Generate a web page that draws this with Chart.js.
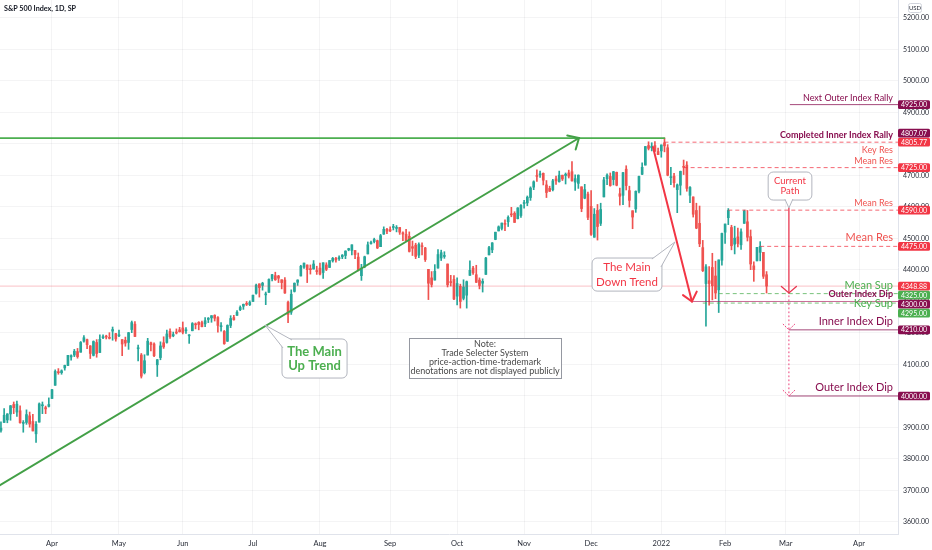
<!DOCTYPE html>
<html>
<head>
<meta charset="utf-8">
<title>S&amp;P 500 Index, 1D</title>
<script src="https://cdn.jsdelivr.net/npm/chart.js@4.4.1/dist/chart.umd.min.js"></script>
<style>
  html, body { margin: 0; padding: 0; background: #fff; }
  canvas { display: block; }
</style>
</head>
<body>
<canvas id="chart" width="932" height="550" style="width:932px;height:550px"></canvas>
<script>
// --- daily candles [open, high, low, close] ---
const mar21 = [
  [3844,3881,3809,3821],[3851,3903,3851,3875],[3891,3918,3885,3898],[3916,3960,3916,3939],
  [3924,3944,3915,3943],[3943,3970,3923,3969],[3973,3981,3944,3963],[3949,3984,3935,3974],
  [3953,3969,3914,3915],[3913,3922,3885,3913],[3916,3956,3910,3941],[3937,3949,3901,3911],
  [3919,3942,3889,3889],[3880,3919,3853,3910],[3917,3978,3917,3975],[3969,3981,3944,3971],
  [3963,3968,3944,3959],[3967,3994,3965,3973]
];
const apr21 = [
  [3992,4021,3992,4020],[4034,4083,4034,4078],[4075,4087,4069,4074],[4074,4083,4069,4080],
  [4089,4098,4082,4097],[4097,4129,4096,4129],[4124,4131,4114,4128],[4130,4148,4125,4142],
  [4141,4151,4120,4125],[4139,4173,4139,4170],[4174,4192,4171,4185],[4179,4181,4150,4163],
  [4159,4160,4119,4135],[4129,4175,4127,4173],[4170,4179,4123,4135],[4138,4194,4138,4180],
  [4185,4194,4182,4188],[4188,4193,4181,4187],[4185,4201,4181,4183],[4206,4219,4177,4211],
  [4198,4199,4174,4181]
];
const may21 = [
  [4191,4209,4188,4192],[4179,4179,4128,4165],[4177,4187,4158,4168],[4170,4202,4148,4201],
  [4211,4238,4201,4233],[4228,4236,4188,4189],[4150,4162,4111,4153],[4130,4135,4057,4063],
  [4074,4131,4070,4112],[4130,4183,4130,4174],[4169,4171,4143,4163],[4165,4169,4125,4128],
  [4099,4116,4062,4115],[4122,4172,4115,4159],[4169,4188,4151,4156],[4170,4209,4168,4197],
  [4205,4213,4183,4188],[4191,4203,4188,4195],[4201,4213,4197,4200],[4210,4218,4203,4204]
];
const jun21 = [
  [4216,4235,4197,4202],[4207,4217,4199,4208],[4191,4195,4167,4192],[4207,4233,4207,4230],
  [4229,4232,4213,4226],[4234,4236,4210,4227],[4233,4238,4219,4220],[4229,4249,4220,4239],
  [4243,4249,4233,4247],[4248,4255,4234,4255],[4256,4258,4238,4247],[4249,4252,4203,4224],
  [4220,4233,4206,4222],[4205,4208,4164,4166],[4174,4226,4173,4224],[4224,4255,4217,4246],
  [4249,4256,4241,4242],[4256,4271,4256,4266],[4274,4286,4271,4281],[4285,4292,4275,4291],
  [4293,4300,4287,4291],[4290,4302,4287,4297]
];
const jul21 = [
  [4300,4320,4300,4320],[4326,4355,4323,4352],[4356,4356,4314,4344],[4351,4361,4336,4358],
  [4321,4330,4290,4321],[4329,4372,4329,4370],[4372,4386,4365,4385],[4382,4393,4367,4369],
  [4381,4383,4360,4374],[4369,4369,4340,4360],[4368,4376,4326,4327],[4297,4301,4233,4259],
  [4266,4337,4259,4323],[4332,4359,4330,4358],[4361,4369,4351,4368],[4381,4415,4381,4412],
  [4409,4422,4405,4422],[4416,4416,4360,4401],[4402,4416,4387,4401],[4403,4430,4403,4419],
  [4396,4412,4386,4395]
];
const aug21 = [
  [4406,4422,4384,4387],[4392,4423,4373,4423],[4416,4423,4398,4402],[4408,4430,4408,4430],
  [4429,4440,4425,4437],[4437,4440,4425,4432],[4436,4445,4430,4436],[4442,4449,4436,4447],
  [4446,4461,4436,4460],[4464,4469,4461,4468],[4462,4480,4448,4480],[4462,4462,4436,4449],
  [4441,4454,4397,4400],[4382,4418,4367,4406],[4410,4444,4407,4442],[4451,4489,4451,4480],
  [4484,4492,4482,4486],[4490,4501,4486,4497],[4493,4495,4468,4470],[4474,4513,4474,4509],
  [4514,4537,4513,4529],[4529,4532,4515,4523]
];
const sep21 = [
  [4528,4537,4522,4524],[4535,4545,4527,4537],[4532,4541,4521,4535],[4535,4535,4513,4520],
  [4518,4521,4493,4514],[4513,4529,4493,4493],[4507,4521,4457,4459],[4474,4492,4446,4469],
  [4479,4485,4436,4443],[4447,4486,4439,4481],[4477,4486,4448,4474],[4470,4472,4427,4433],
  [4402,4402,4306,4358],[4375,4395,4346,4354],[4368,4417,4368,4396],[4406,4465,4406,4449],
  [4438,4463,4430,4455],[4443,4458,4437,4443],[4419,4419,4346,4353],[4363,4383,4349,4360],
  [4370,4382,4306,4308]
];
const oct21 = [
  [4317,4375,4289,4357],[4348,4355,4279,4300],[4310,4369,4305,4346],[4320,4365,4279,4363],
  [4383,4429,4383,4399],[4406,4412,4386,4391],[4385,4415,4360,4361],[4368,4375,4340,4351],
  [4358,4372,4330,4364],[4386,4440,4386,4438],[4448,4475,4448,4471],[4464,4487,4455,4486],
  [4497,4520,4496,4520],[4524,4540,4524,4537],[4532,4549,4527,4549],[4547,4559,4525,4545],
  [4553,4572,4538,4567],[4578,4599,4569,4575],[4580,4585,4551,4551],[4563,4598,4562,4597],
  [4573,4608,4567,4605]
];
const nov21 = [
  [4611,4621,4596,4614],[4613,4635,4604,4631],[4630,4664,4621,4660],[4663,4683,4655,4680],
  [4699,4718,4681,4697],[4702,4714,4694,4702],[4707,4708,4670,4685],[4670,4684,4630,4646],
  [4659,4666,4649,4650],[4655,4688,4651,4683],[4689,4698,4672,4683],[4680,4714,4679,4701],
  [4701,4701,4684,4689],[4700,4708,4673,4704],[4708,4717,4692,4698],[4712,4744,4682,4683],
  [4679,4702,4653,4690],[4675,4702,4659,4701],[4664,4664,4585,4595],[4628,4672,4626,4655],
  [4641,4647,4560,4567]
];
const dec21 = [
  [4602,4652,4510,4513],[4504,4595,4504,4577],[4589,4608,4495,4538],[4548,4612,4541,4592],
  [4632,4694,4632,4686],[4690,4705,4671,4701],[4697,4708,4666,4668],[4687,4713,4670,4712],
  [4710,4711,4667,4669],[4642,4660,4606,4634],[4637,4710,4607,4709],[4720,4731,4654,4668],
  [4652,4666,4600,4621],[4588,4588,4531,4568],[4594,4651,4583,4650],[4650,4698,4645,4697],
  [4704,4740,4703,4726],[4733,4792,4733,4792],[4795,4807,4781,4786],[4788,4804,4778,4793],
  [4795,4808,4776,4778],[4776,4787,4766,4766]
];
const jan22 = [
  [4778,4797,4758,4797],[4804,4819,4775,4794],[4788,4798,4699,4701],[4693,4726,4671,4696],
  [4698,4707,4663,4677],[4655,4673,4582,4670],[4669,4714,4638,4713],[4728,4749,4703,4726],
  [4733,4744,4650,4659],[4637,4665,4614,4662],[4632,4632,4568,4577],[4589,4612,4531,4533],
  [4548,4603,4474,4483],[4471,4494,4395,4398],[4357,4417,4222,4410],[4366,4411,4288,4357],
  [4408,4453,4305,4350],[4381,4428,4309,4327],[4337,4432,4265,4432],[4431,4517,4415,4516]
];
const feb22 = [
  [4520,4546,4484,4546],[4566,4595,4544,4589],[4535,4542,4464,4477],[4482,4539,4451,4501],
  [4505,4533,4473,4484],[4480,4531,4465,4521],[4548,4590,4548,4587],[4553,4589,4492,4504],
  [4506,4527,4401,4419],[4413,4426,4364,4401],[4429,4472,4429,4472],[4456,4490,4429,4475],
  [4456,4456,4373,4380],[4385,4395,4327,4348.88]
];

// --- trading calendar ---
const firstDay = '2021-03-08';
const originDay = '2021-04-01';   // x = 0
const holidays = ['2021-04-02','2021-05-31','2021-07-05','2021-09-06','2021-11-25',
                  '2021-12-24','2022-01-17','2022-02-21','2022-04-15'];
const monthNames = ['Jan','Feb','Mar','Apr','May','Jun','Jul','Aug','Sep','Oct','Nov','Dec'];

// --- price axis ---
const priceTicks = [3600,3700,3800,3900,4000,4100,4200,4300,4400,4500,4600,4700,4800,4900,5000,5100,5200];

// --- marked levels ---
const lastPrice = 4348.88;
const levelPrices = [4925, 4805.77, 4807.07, 4725, 4590, 4475, 4325, 4300, 4295, 4210, 4000];
const levelNames = ['Next Outer Index Rally', 'Key Res', 'Completed Inner Index Rally', 'Mean Res',
                    'Mean Res', 'Mean Res', 'Mean Sup', 'Outer Index Dip', 'Key Sup',
                    'Inner Index Dip', 'Outer Index Dip'];
const trendHigh = 4818.6;

const X_MIN = -16.3, X_MAX = 265.2;
const UP = '#26a69a', DOWN = '#ef5350';
const GREEN = '#4caf50', RED = '#f23645', MAROON = '#880e4f';
const FONT = 'Lato, "Open Sans", sans-serif';

// build trading days
const dates = [];
for (let t = Date.parse(firstDay + 'T00:00:00Z'); dates.length < 300; t += 86400000) {
  const d = new Date(t);
  const iso = d.toISOString().slice(0, 10);
  if (d.getUTCDay() === 0 || d.getUTCDay() === 6 || holidays.includes(iso)) continue;
  dates.push(iso);
}
const origin = dates.indexOf(originDay);

const monthTicks = [];
const monthLabel = {};
dates.forEach((iso, k) => {
  if (k === 0 || iso.slice(5, 7) === dates[k - 1].slice(5, 7)) return;
  const m = +iso.slice(5, 7) - 1;
  const v = k - origin;
  if (v < X_MIN || v > X_MAX) return;
  monthTicks.push(v);
  monthLabel[v] = m === 0 ? iso.slice(0, 4) : monthNames[m];
});

const candles = [].concat(mar21, apr21, may21, jun21, jul21, aug21, sep21, oct21, nov21, dec21, jan22, feb22);
const start = dates.indexOf(firstDay) - origin;
const candleColors = candles.map(c => c[3] >= c[0] ? UP : DOWN);

// label style per level (same order as levelPrices)
const levelStyle = [
  { from: 231.3, line: 'rgba(136,14,79,0.75)', dash: [], color: MAROON, font: '9px', place: 'above' },
  { from: 192, line: 'rgba(242,54,69,0.75)', dash: [4, 3], color: '#ef5350', font: '9px', place: 'below' },
  { from: null, color: MAROON, font: 'bold 9px', place: 'above' },
  { from: 198, line: 'rgba(242,54,69,0.75)', dash: [4, 3], color: '#ef5350', font: '9px', place: 'above' },
  { from: 212, line: 'rgba(242,54,69,0.75)', dash: [4, 3], color: '#ef5350', font: '9px', place: 'above' },
  { from: 222, line: 'rgba(242,54,69,0.75)', dash: [4, 3], color: '#ef5350', font: '11px', place: 'above' },
  { from: 209, line: 'rgba(76,175,80,0.75)', dash: [4, 3], color: GREEN, font: '11px', place: 'above' },
  { from: 200.6, line: 'rgba(173,20,87,0.6)', dash: [], color: MAROON, font: 'bold 9px', place: 'above' },
  { from: 204, line: 'rgba(76,175,80,0.75)', dash: [4, 3], color: GREEN, font: '11px', place: 'middle' },
  { from: 231, line: 'rgba(136,14,79,0.75)', dash: [], color: MAROON, font: '11px', place: 'above' },
  { from: 231, line: 'rgba(136,14,79,0.75)', dash: [], color: MAROON, font: '11px', place: 'above' }
];
const axisBoxColors = [MAROON, RED, MAROON, RED, RED, RED, GREEN, MAROON, GREEN, MAROON, MAROON];

function rrect(ctx, x0, y0, x1, y1, r) {
  ctx.beginPath();
  ctx.moveTo(x0 + r, y0);
  ctx.arcTo(x1, y0, x1, y1, r);
  ctx.arcTo(x1, y1, x0, y1, r);
  ctx.arcTo(x0, y1, x0, y0, r);
  ctx.arcTo(x0, y0, x1, y0, r);
  ctx.closePath();
}

function arrowHead(ctx, fx, fy, tx, ty, len, spread) {
  const back = Math.atan2(fy - ty, fx - tx);
  ctx.beginPath();
  ctx.moveTo(tx + len * Math.cos(back - spread), ty + len * Math.sin(back - spread));
  ctx.lineTo(tx, ty);
  ctx.lineTo(tx + len * Math.cos(back + spread), ty + len * Math.sin(back + spread));
  ctx.stroke();
}

// no edge padding on the axes, the plot fills the canvas like the original
function noPad(s) {
  s.paddingTop = 0; s.paddingBottom = 0; s.paddingLeft = 0; s.paddingRight = 0;
}

const drawings = {
  id: 'drawings',
  afterDatasetsDraw(chart) {
    const { ctx, chartArea: a } = chart;
    const X = v => chart.scales.x.getPixelForValue(v);
    const Y = v => chart.scales.y.getPixelForValue(v);
    const textRight = a.right - 5;

    const seg = (x0, y0, x1, y1, color, width, dash) => {
      ctx.strokeStyle = color;
      ctx.lineWidth = width;
      ctx.setLineDash(dash || []);
      ctx.beginPath();
      ctx.moveTo(x0, y0);
      ctx.lineTo(x1, y1);
      ctx.stroke();
      ctx.setLineDash([]);
    };

    const callout = (x0, y0, x1, y1, tip, b1, b2) => {
      ctx.fillStyle = '#fff';
      ctx.strokeStyle = '#b2b5be';
      ctx.lineWidth = 1;
      rrect(ctx, x0, y0, x1, y1, 5);
      ctx.fill();
      ctx.stroke();
      ctx.beginPath();
      ctx.moveTo(b1[0], b1[1]); ctx.lineTo(tip[0], tip[1]); ctx.lineTo(b2[0], b2[1]);
      ctx.closePath();
      ctx.fill();
      ctx.beginPath();
      ctx.moveTo(b1[0], b1[1]); ctx.lineTo(tip[0], tip[1]); ctx.lineTo(b2[0], b2[1]);
      ctx.stroke();
    };

    ctx.save();
    ctx.beginPath();
    ctx.rect(a.left, a.top, a.right - a.left, a.bottom - a.top);
    ctx.clip();

    // last price line
    seg(a.left, Y(lastPrice), a.right, Y(lastPrice), 'rgba(242,54,69,0.3)', 1);

    // level rays
    levelPrices.forEach((p, k) => {
      const s = levelStyle[k];
      if (s.from !== null) seg(X(s.from), Y(p), a.right, Y(p), s.line, 1, s.dash);
    });

    // main up trend
    ctx.lineCap = 'round';
    seg(a.left, Y(trendHigh), X(192), Y(trendHigh), GREEN, 1.6);
    const upA = [X(-16.3), Y(3717)], upB = [X(165.2), Y(4819)];
    seg(upA[0], upA[1], upB[0], upB[1], '#43a047', 2);
    ctx.strokeStyle = '#43a047';
    ctx.lineWidth = 2;
    arrowHead(ctx, upA[0], upA[1], upB[0], upB[1], 12, 0.75);

    // main down trend
    const dnA = [X(188.4), Y(4790)], dnB = [X(200.6), Y(4300)];
    seg(dnA[0], dnA[1], dnB[0], dnB[1], RED, 2);
    ctx.strokeStyle = RED;
    arrowHead(ctx, dnA[0], dnA[1], dnB[0], dnB[1], 11, 0.7);

    // current path
    const cx = X(231);
    seg(cx, Y(4597), cx, Y(4327), '#e8364f', 1.3);
    ctx.strokeStyle = '#e8364f';
    ctx.lineWidth = 1.3;
    arrowHead(ctx, cx, Y(4597), cx, Y(4327), 10, 0.85);
    seg(cx, Y(4318), cx, Y(4000), '#ec407a', 1, [1, 3]);
    ctx.setLineDash([1, 2]);
    ctx.strokeStyle = '#ec407a';
    ctx.lineWidth = 1;
    arrowHead(ctx, cx, Y(4300), cx, Y(4210), 8, 0.8);
    arrowHead(ctx, cx, Y(4100), cx, Y(4000), 8, 0.8);
    ctx.setLineDash([]);
    ctx.lineCap = 'butt';

    // level labels
    ctx.textAlign = 'right';
    levelPrices.forEach((p, k) => {
      const s = levelStyle[k];
      const big = s.font.indexOf('11') >= 0;
      ctx.font = s.font + ' ' + FONT;
      ctx.fillStyle = s.color;
      let yy = Y(p);
      if (s.place === 'above') { ctx.textBaseline = 'alphabetic'; yy -= big ? 5 : 4; }
      else if (s.place === 'below') { ctx.textBaseline = 'alphabetic'; yy += 11; }
      else ctx.textBaseline = 'middle';
      ctx.fillText(levelNames[k], textRight, yy);
    });

    // callouts
    ctx.textAlign = 'center';
    ctx.textBaseline = 'middle';
    {
      const x0 = X(72.1), y0 = Y(4181), x1 = X(92.5), y1 = Y(4057);
      callout(x0, y0, x1, y1, [X(66.8), Y(4225)], [x0 + 1, y0 + 9], [x0 + 10, y0 + 1]);
      ctx.fillStyle = GREEN;
      ctx.font = 'bold 13px ' + FONT;
      const mx = (x0 + x1) / 2, my = (y0 + y1) / 2;
      ctx.fillText('The Main', mx, my - 7);
      ctx.fillText('Up Trend', mx, my + 7);
    }
    {
      const x0 = X(169.3), y0 = Y(4438), x1 = X(191.2), y1 = Y(4333);
      callout(x0, y0, x1, y1, [X(195.3), Y(4489)], [x1 - 10, y0 + 1], [x1 - 1, y0 + 9]);
      ctx.fillStyle = RED;
      ctx.font = '11.5px ' + FONT;
      const mx = (x0 + x1) / 2, my = (y0 + y1) / 2;
      ctx.fillText('The Main', mx, my - 7.5);
      ctx.fillText('Down Trend', mx, my + 7.5);
    }
    {
      const x0 = X(224.5), y0 = Y(4711), x1 = X(238.2), y1 = Y(4622);
      callout(x0, y0, x1, y1, [cx, Y(4597)], [cx - 4, y1 - 1], [cx + 4, y1 - 1]);
      ctx.fillStyle = RED;
      ctx.font = '9.5px ' + FONT;
      const mx = (x0 + x1) / 2, my = (y0 + y1) / 2;
      ctx.fillText('Current', mx, my - 5);
      ctx.fillText('Path', mx, my + 5);
    }
    {
      const x0 = X(111.9), y0 = Y(4184), x1 = X(159.6), y1 = Y(4057);
      ctx.fillStyle = '#fff';
      ctx.fillRect(x0, y0, x1 - x0, y1 - y0);
      ctx.strokeStyle = '#9598a1';
      ctx.lineWidth = 1;
      ctx.strokeRect(Math.round(x0) + 0.5, Math.round(y0) + 0.5, Math.round(x1 - x0), Math.round(y1 - y0));
      ctx.fillStyle = '#4a4a4a';
      ctx.font = '9px ' + FONT;
      const mx = (x0 + x1) / 2;
      ['Note:', 'Trade Selecter System', 'price-action-time-trademark',
       'denotations are not displayed publicly'].forEach((t, k) => ctx.fillText(t, mx, y0 + 6.5 + k * 9));
    }
    ctx.restore();
  },
  afterDraw(chart) {
    const { ctx, chartArea: a } = chart;
    const Y = v => chart.scales.y.getPixelForValue(v);

    // price boxes on the axis, shifted apart when they collide
    const boxes = [{ p: lastPrice, c: RED }].concat(levelPrices.map((p, k) => ({ p, c: axisBoxColors[k] })));
    const gap = 9, placed = [];
    boxes.forEach(b => {
      const ideal = Y(b.p);
      const cand = [ideal];
      placed.forEach(q => { cand.push(q - gap, q + gap); });
      const free = cand.filter(c => placed.every(q => Math.abs(c - q) >= gap - 0.01));
      free.sort((u, v) => Math.abs(u - ideal) - Math.abs(v - ideal));
      b.y = free[0];
      placed.push(b.y);
    });
    ctx.save();
    ctx.font = '7px ' + FONT;
    ctx.textAlign = 'center';
    ctx.textBaseline = 'middle';
    boxes.forEach(b => {
      ctx.fillStyle = b.c;
      rrect(ctx, a.right, b.y - 4.3, a.right + 32, b.y + 4.3, 1.5);
      ctx.fill();
      ctx.fillStyle = '#fff';
      ctx.fillText(b.p.toFixed(2), a.right + 16, b.y + 0.4);
    });

    // currency tag
    ctx.strokeStyle = '#d1d4dc';
    ctx.lineWidth = 1;
    rrect(ctx, 908.5, 3.5, 921.5, 12.5, 2);
    ctx.stroke();
    ctx.fillStyle = '#2a2e39';
    ctx.font = '6px ' + FONT;
    ctx.fillText('USD', 915, 8.3);

    // title
    ctx.textAlign = 'left';
    ctx.fillStyle = '#131722';
    ctx.font = 'bold 7.2px ' + FONT;
    ctx.fillText('S&P 500 Index, 1D, SP', 4, 9);
    ctx.restore();
  }
};

new Chart(document.getElementById('chart').getContext('2d'), {
  type: 'bar',
  data: {
    datasets: [
      {
        data: candles.map((c, k) => ({ x: start + k, y: [c[2], c[1]] })),
        backgroundColor: candleColors,
        barThickness: 1,
        grouped: false,
        order: 2
      },
      {
        data: candles.map((c, k) => ({ x: start + k, y: [c[0], c[3]] })),
        backgroundColor: candleColors,
        barThickness: 2,
        minBarLength: 1,
        grouped: false,
        order: 1
      }
    ]
  },
  options: {
    responsive: false,
    animation: false,
    layout: { padding: 0 },
    plugins: { legend: { display: false }, tooltip: { enabled: false } },
    scales: {
      x: {
        type: 'linear',
        min: X_MIN,
        max: X_MAX,
        offset: false,
        afterBuildTicks: s => { s.ticks = monthTicks.map(v => ({ value: v })); },
        afterFit: s => { s.height = 16; noPad(s); },
        grid: { color: 'rgba(42,46,57,0.05)', drawTicks: false, offset: false },
        border: { color: '#e0e3eb' },
        ticks: {
          autoSkip: false, maxRotation: 0, padding: 5, color: '#2a2e39',
          font: { family: FONT, size: 7.5 },
          callback: v => monthLabel[v] || ''
        }
      },
      y: {
        position: 'right',
        min: 3561.9,
        max: 5257.1,
        afterBuildTicks: s => { s.ticks = priceTicks.map(v => ({ value: v })); },
        afterFit: s => { s.width = 34; noPad(s); },
        grid: { color: 'rgba(42,46,57,0.05)', drawTicks: false },
        border: { color: '#e0e3eb' },
        ticks: {
          padding: 5, color: '#2a2e39',
          font: { family: FONT, size: 7 },
          callback: v => v.toFixed(2)
        }
      }
    }
  },
  plugins: [drawings]
});
</script>
</body>
</html>
